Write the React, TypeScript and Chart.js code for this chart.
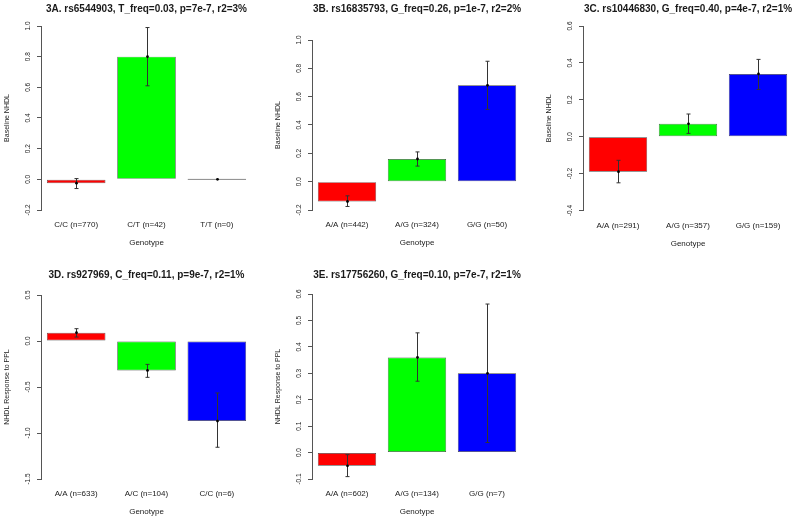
import React, { useEffect, useRef } from "react";
import { Chart, registerables } from "chart.js";

Chart.register(...registerables);

// ---------- DATA ----------
const barColors = ["#FF0000", "#00FF00", "#0000FF"];
const xAxisTitle = "Genotype";

const titleA = "3A. rs6544903, T_freq=0.03, p=7e-7, r2=3%";
const categoriesA = ["C/C (n=770)", "C/T (n=42)", "T/T (n=0)"];
const meansA = [-0.025, 0.8, 0.0];
const lowerA = [-0.06, 0.61, 0.0];
const upperA = [0.005, 0.99, 0.0];
const ticksA = [-0.2, 0.0, 0.2, 0.4, 0.6, 0.8, 1.0];
const yTitleA = "Baseline NHDL";

const titleB = "3B. rs16835793, G_freq=0.26, p=1e-7, r2=2%";
const categoriesB = ["A/A (n=442)", "A/G (n=324)", "G/G (n=50)"];
const meansB = [-0.14, 0.16, 0.68];
const lowerB = [-0.175, 0.11, 0.51];
const upperB = [-0.1, 0.21, 0.85];
const ticksB = [-0.2, 0.0, 0.2, 0.4, 0.6, 0.8, 1.0];
const yTitleB = "Baseline NHDL";

const titleC = "3C. rs10446830, G_freq=0.40, p=4e-7, r2=1%";
const categoriesC = ["A/A (n=291)", "A/G (n=357)", "G/G (n=159)"];
const meansC = [-0.19, 0.07, 0.34];
const lowerC = [-0.25, 0.018, 0.256];
const upperC = [-0.128, 0.123, 0.419];
const ticksC = [-0.4, -0.2, 0.0, 0.2, 0.4, 0.6];
const yTitleC = "Baseline NHDL";

const titleD = "3D. rs927969, C_freq=0.11, p=9e-7, r2=1%";
const categoriesD = ["A/A (n=633)", "A/C (n=104)", "C/C (n=6)"];
const meansD = [0.09, -0.32, -0.87];
const lowerD = [0.043, -0.395, -1.155];
const upperD = [0.134, -0.254, -0.565];
const ticksD = [-1.5, -1.0, -0.5, 0.0, 0.5];
const yTitleD = "NHDL Response to PPL";

const titleE = "3E. rs17756260, G_freq=0.10, p=7e-7, r2=1%";
const categoriesE = ["A/A (n=602)", "A/G (n=134)", "G/G (n=7)"];
const meansE = [-0.05, 0.36, 0.3];
const lowerE = [-0.091, 0.27, 0.038];
const upperE = [-0.008, 0.453, 0.562];
const ticksE = [-0.1, 0.0, 0.1, 0.2, 0.3, 0.4, 0.5, 0.6];
const yTitleE = "NHDL Response to PPL";

// ---------- LAYOUT (positions/sizes) ----------
type PanelCfg = {
  title: string;
  categories: string[];
  means: number[];
  lower: number[];
  upper: number[];
  ticks: number[];
  yTitle: string;
  x: number;
  y: number;
  w: number;
  h: number;
  left: number;
  right: number;
  top: number;
  bottom: number;
  titleY: number;
};

const panels: PanelCfg[] = [
  { title: titleA, categories: categoriesA, means: meansA, lower: lowerA, upper: upperA, ticks: ticksA, yTitle: yTitleA,
    x: 0, y: 0, w: 266, h: 260, left: 41, right: 252, top: 26, bottom: 210, titleY: 9 },
  { title: titleB, categories: categoriesB, means: meansB, lower: lowerB, upper: upperB, ticks: ticksB, yTitle: yTitleB,
    x: 266, y: 0, w: 266, h: 260, left: 46, right: 256, top: 40, bottom: 210, titleY: 9 },
  { title: titleC, categories: categoriesC, means: meansC, lower: lowerC, upper: upperC, ticks: ticksC, yTitle: yTitleC,
    x: 532, y: 0, w: 268, h: 260, left: 51, right: 261, top: 26, bottom: 210.5, titleY: 9 },
  { title: titleD, categories: categoriesD, means: meansD, lower: lowerD, upper: upperD, ticks: ticksD, yTitle: yTitleD,
    x: 0, y: 260, w: 266, h: 261, left: 41, right: 252, top: 35, bottom: 219, titleY: 15 },
  { title: titleE, categories: categoriesE, means: meansE, lower: lowerE, upper: upperE, ticks: ticksE, yTitle: yTitleE,
    x: 266, y: 260, w: 266, h: 261, left: 46, right: 256, top: 34, bottom: 219, titleY: 15 },
];

const FONT = "'Liberation Sans', Arial, Helvetica, sans-serif";
const TEXT = "#1a1a1a";
const AXIS = "#555";
const TICK_LEN = 4;

function Panel({ cfg }: { cfg: PanelCfg }) {
  const ref = useRef<HTMLCanvasElement>(null);

  useEffect(() => {
    const canvas = ref.current;
    if (!canvas) return;

    const decorations = {
      id: "rDecorations",
      afterDatasetsDraw(chart: any) {
        const ctx = chart.ctx;
        const ys = chart.scales.y;
        const meta = chart.getDatasetMeta(0);
        ctx.save();
        ctx.strokeStyle = "#333";
        ctx.lineWidth = 1;
        meta.data.forEach((bar: any, i: number) => {
          const x = Math.round(bar.x) + 0.5;
          const yLo = ys.getPixelForValue(cfg.lower[i]);
          const yHi = ys.getPixelForValue(cfg.upper[i]);
          const yM = ys.getPixelForValue(cfg.means[i]);
          if (Math.abs(yLo - yHi) > 0.5) {
            ctx.beginPath();
            ctx.moveTo(x, yLo);
            ctx.lineTo(x, yHi);
            ctx.moveTo(x - 2, yLo);
            ctx.lineTo(x + 2, yLo);
            ctx.moveTo(x - 2, yHi);
            ctx.lineTo(x + 2, yHi);
            ctx.stroke();
          }
          ctx.fillStyle = "#000";
          ctx.beginPath();
          ctx.arc(x, yM, 1.4, 0, Math.PI * 2);
          ctx.fill();
        });
        ctx.restore();
      },
      afterDraw(chart: any) {
        const ctx = chart.ctx;
        const ca = chart.chartArea;
        const ys = chart.scales.y;
        const meta = chart.getDatasetMeta(0);
        ctx.save();
        ctx.fillStyle = TEXT;
        // title
        ctx.font = `bold 10px ${FONT}`;
        ctx.textAlign = "center";
        ctx.textBaseline = "middle";
        ctx.fillText(cfg.title, (ca.left + ca.right) / 2, cfg.titleY + 0.5);
        // y tick labels (rotated, like R)
        ctx.font = `6.5px ${FONT}`;
        cfg.ticks.forEach((v) => {
          const y = ys.getPixelForValue(v);
          ctx.save();
          ctx.translate(ca.left - 13, y);
          ctx.rotate(-Math.PI / 2);
          ctx.fillText(v.toFixed(1), 0, 0);
          ctx.restore();
        });
        // y title
        ctx.font = `7px ${FONT}`;
        ctx.save();
        ctx.translate(ca.left - 34, (ca.top + ca.bottom) / 2);
        ctx.rotate(-Math.PI / 2);
        ctx.fillText(cfg.yTitle, 0, 0);
        ctx.restore();
        // x category labels
        ctx.font = `8px ${FONT}`;
        meta.data.forEach((bar: any, i: number) => {
          ctx.fillText(cfg.categories[i], bar.x, ca.bottom + 15);
        });
        // x title
        ctx.fillText(xAxisTitle, (ca.left + ca.right) / 2, ca.bottom + 33);
        ctx.restore();
      },
    };

    const chart = new Chart(canvas, {
      type: "bar",
      data: {
        labels: cfg.categories,
        datasets: [
          {
            data: cfg.means,
            backgroundColor: barColors,
            borderColor: "#444",
            borderWidth: 0.7,
            borderSkipped: false,
            barPercentage: 0.833,
            categoryPercentage: 1,
            minBarLength: 1,
          },
        ],
      },
      options: {
        responsive: false,
        animation: false,
        events: [],
        layout: {
          padding: {
            left: cfg.left - TICK_LEN,
            right: cfg.w - cfg.right,
            top: cfg.top,
            bottom: cfg.h - cfg.bottom,
          },
        },
        plugins: {
          legend: { display: false },
          tooltip: { enabled: false },
          title: { display: false },
        },
        scales: {
          x: { type: "category", display: false, offset: true },
          y: {
            type: "linear",
            min: cfg.ticks[0],
            max: cfg.ticks[cfg.ticks.length - 1],
            ticks: { display: false },
            grid: {
              drawOnChartArea: false,
              drawTicks: true,
              tickLength: TICK_LEN,
              color: AXIS,
              lineWidth: 1,
            },
            border: { display: true, color: AXIS, width: 1 },
            afterBuildTicks: (s: any) => {
              s.ticks = cfg.ticks.map((v) => ({ value: v }));
            },
            afterFit: (s: any) => {
              s.width = TICK_LEN;
            },
          },
        },
      },
      plugins: [decorations],
    } as any);

    return () => chart.destroy();
  }, [cfg]);

  return (
    <canvas
      ref={ref}
      width={cfg.w}
      height={cfg.h}
      style={{ position: "absolute", left: cfg.x, top: cfg.y, width: cfg.w, height: cfg.h, display: "block" }}
    />
  );
}

export default function App() {
  return (
    <div style={{ position: "fixed", left: 0, top: 0, width: 800, height: 521, background: "#fff", overflow: "hidden" }}>
      {panels.map((p, i) => (
        <Panel key={i} cfg={p} />
      ))}
    </div>
  );
}
